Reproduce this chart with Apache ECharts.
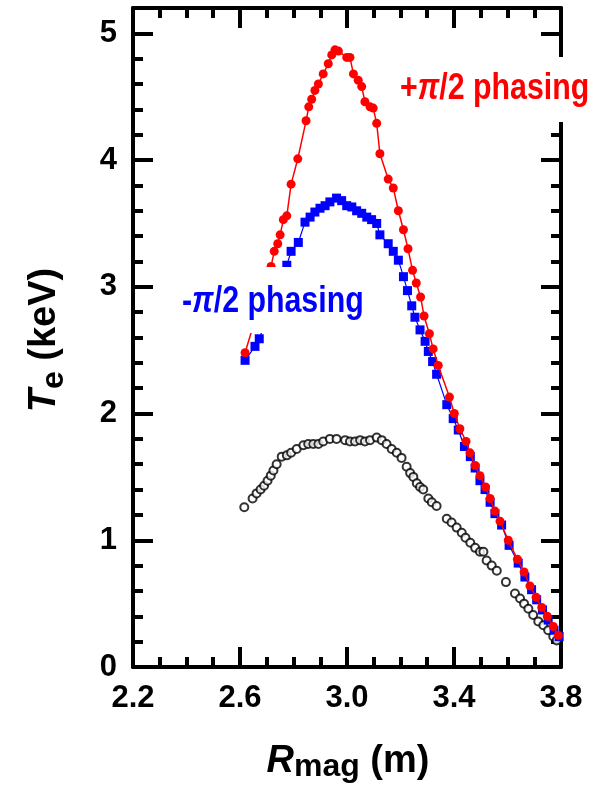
<!DOCTYPE html>
<html>
<head>
<meta charset="utf-8">
<script src="https://cdn.jsdelivr.net/npm/echarts@6/dist/echarts.min.js"></script>
<style>
  html, body { margin: 0; padding: 0; background: #fff; }
  #chart { width: 595px; height: 795px; }
</style>
</head>
<body>
<div id="chart"></div>
<script>
// Electron temperature profiles T_e versus major radius R_mag

// Reference profile (open circles)
const rRef = [2.616, 2.647, 2.662, 2.677, 2.690, 2.703, 2.715, 2.725, 2.737, 2.756,
  2.775, 2.791, 2.812, 2.837, 2.855, 2.874, 2.893, 2.911, 2.936, 2.961,
  2.993, 3.011, 3.030, 3.049, 3.067, 3.086, 3.111, 3.130, 3.148, 3.167,
  3.186, 3.204, 3.223, 3.236, 3.248, 3.261, 3.273, 3.285, 3.304, 3.317,
  3.335, 3.373, 3.391, 3.410, 3.429, 3.443, 3.461, 3.479, 3.497, 3.510,
  3.522, 3.541, 3.560, 3.594, 3.628, 3.647, 3.662, 3.678, 3.696, 3.715,
  3.734, 3.752, 3.771, 3.784, 3.803];
const teRef = [1.26, 1.33, 1.37, 1.40, 1.43, 1.47, 1.51, 1.55, 1.60, 1.66,
  1.67, 1.69, 1.72, 1.75, 1.76, 1.76, 1.76, 1.78, 1.80, 1.80,
  1.79, 1.78, 1.78, 1.79, 1.78, 1.79, 1.81, 1.79, 1.76, 1.72,
  1.69, 1.65, 1.58, 1.53, 1.50, 1.45, 1.42, 1.40, 1.33, 1.30,
  1.27, 1.17, 1.14, 1.10, 1.06, 1.02, 0.98, 0.94, 0.91, 0.91,
  0.84, 0.80, 0.76, 0.67, 0.58, 0.54, 0.50, 0.46, 0.41, 0.36,
  0.33, 0.29, 0.24, 0.21, 0.15];

// -pi/2 phasing (blue squares)
const rMinus = [2.619, 2.656, 2.672, 2.775, 2.791, 2.818, 2.843, 2.862, 2.880, 2.899,
  2.918, 2.936, 2.961, 2.980, 2.999, 3.018, 3.036, 3.055, 3.074, 3.092,
  3.111, 3.123, 3.154, 3.173, 3.192, 3.211, 3.226, 3.242, 3.254, 3.273,
  3.292, 3.304, 3.320, 3.335, 3.373, 3.397, 3.416, 3.439, 3.461, 3.479,
  3.497, 3.516, 3.535, 3.553, 3.578, 3.606, 3.640, 3.665, 3.690, 3.709,
  3.731, 3.752, 3.774, 3.793];
const teMinus = [2.42, 2.53, 2.59, 3.17, 3.28, 3.35, 3.51, 3.55, 3.59, 3.62,
  3.64, 3.67, 3.70, 3.68, 3.64, 3.63, 3.60, 3.58, 3.55, 3.53,
  3.50, 3.41, 3.34, 3.28, 3.21, 3.08, 2.97, 2.85, 2.76, 2.66,
  2.57, 2.49, 2.41, 2.31, 2.07, 1.96, 1.87, 1.74, 1.66, 1.57,
  1.47, 1.40, 1.30, 1.21, 1.12, 0.96, 0.82, 0.71, 0.61, 0.53,
  0.45, 0.37, 0.29, 0.24];

// +pi/2 phasing (red circles)
const rPlus = [2.619, 2.716, 2.728, 2.741, 2.750, 2.762, 2.775, 2.791, 2.816, 2.847,
  2.857, 2.868, 2.880, 2.893, 2.911, 2.930, 2.943, 2.955, 2.968, 2.999,
  3.011, 3.024, 3.042, 3.055, 3.067, 3.086, 3.098, 3.111, 3.123, 3.154,
  3.173, 3.192, 3.211, 3.228, 3.245, 3.259, 3.275, 3.288, 3.308, 3.322,
  3.341, 3.383, 3.401, 3.422, 3.445, 3.460, 3.479, 3.497, 3.518, 3.535,
  3.553, 3.572, 3.603, 3.637, 3.662, 3.684, 3.707, 3.728, 3.749, 3.771,
  3.790];
const tePlus = [2.48, 3.16, 3.28, 3.34, 3.41, 3.53, 3.56, 3.81, 4.01, 4.31,
  4.42, 4.48, 4.55, 4.60, 4.68, 4.76, 4.83, 4.87, 4.86, 4.81,
  4.81, 4.68, 4.63, 4.58, 4.46, 4.42, 4.41, 4.29, 4.05, 3.85,
  3.78, 3.60, 3.45, 3.30, 3.13, 3.03, 2.92, 2.77, 2.63, 2.51,
  2.38, 2.13, 2.00, 1.88, 1.78, 1.69, 1.59, 1.51, 1.42, 1.33,
  1.23, 1.15, 1.00, 0.85, 0.75, 0.64, 0.55, 0.47, 0.40, 0.32,
  0.25];

const FONT = '"Liberation Sans", Arial, Helvetica, sans-serif';
const BLACK = '#000000';
const RED = '#ff0000';
const BLUE = '#0000ff';

const pairs = (xs, ys) => xs.map((x, i) => [x, ys[i]]);

// Boxed frame: every side carries major and minor ticks pointing into the plot
function frameAxis(kind, position, showLabels, gridIndex) {
  const isX = kind === 'x';
  const axis = {
    type: 'value',
    gridIndex: gridIndex,
    position: position,
    min: isX ? 2.2 : 0,
    max: isX ? 3.8 : 5.2,
    interval: isX ? 0.4 : 1,
    axisLine: { show: true, lineStyle: { color: BLACK, width: 4 } },
    axisTick: { show: true, inside: true, length: 20, lineStyle: { color: BLACK, width: 4 } },
    minorTick: { show: true, splitNumber: isX ? 4 : 5, length: 10, lineStyle: { color: BLACK, width: 4 } },
    splitLine: { show: false },
    axisLabel: { show: false }
  };
  if (showLabels) {
    axis.axisLabel = {
      show: true,
      fontFamily: FONT,
      fontWeight: 'bold',
      fontSize: 31,
      color: BLACK,
      margin: 16,
      formatter: isX
        ? (v => v.toFixed(1))
        : (v => (Math.abs(v - Math.round(v)) < 1e-6 ? String(Math.round(v)) : ''))
    };
  }
  return axis;
}

const chart = echarts.init(document.getElementById('chart'));

const plotRect = { left: 133, right: 34, top: 8, bottom: 128 };

chart.setOption({
  animation: false,
  // grid 0 holds the data; grid 1 covers the same rectangle and only carries the top frame axis
  grid: [Object.assign({}, plotRect), Object.assign({}, plotRect)],
  xAxis: [
    frameAxis('x', 'bottom', true, 0),
    frameAxis('x', 'top', false, 1)
  ],
  yAxis: [
    frameAxis('y', 'left', true, 0),
    frameAxis('y', 'right', false, 0),
    { type: 'value', gridIndex: 1, show: false, min: 1, max: 2 }
  ],
  series: [
    {
      name: 'reference',
      type: 'scatter',
      xAxisIndex: 0,
      yAxisIndex: 0,
      data: pairs(rRef, teRef),
      symbol: 'circle',
      symbolSize: 8,
      itemStyle: { color: '#ffffff', borderColor: BLACK, borderWidth: 2 },
      z: 2
    },
    {
      name: '-pi/2 phasing',
      type: 'line',
      xAxisIndex: 0,
      yAxisIndex: 0,
      data: pairs(rMinus, teMinus),
      symbol: 'rect',
      symbolSize: 9,
      showSymbol: true,
      itemStyle: { color: BLUE },
      lineStyle: { color: BLUE, width: 1.2 },
      z: 3
    },
    {
      name: '+pi/2 phasing',
      type: 'line',
      xAxisIndex: 0,
      yAxisIndex: 0,
      data: pairs(rPlus, tePlus),
      symbol: 'circle',
      symbolSize: 9,
      showSymbol: true,
      itemStyle: { color: RED },
      lineStyle: { color: RED, width: 1.5 },
      z: 4
    }
  ],
  graphic: [
    // label for +pi/2 phasing, on a white plate
    { type: 'rect', z: 100, shape: { x: 382, y: 57, width: 213, height: 65 }, style: { fill: '#ffffff' } },
    {
      type: 'text', z: 101, x: 400, y: 89, scaleX: 0.82,
      style: {
        text: '{a|+}{b|π}{a|/2 phasing}',
        verticalAlign: 'middle', align: 'left',
        rich: {
          a: { fontFamily: FONT, fontWeight: 'bold', fontSize: 37, fill: RED },
          b: { fontFamily: FONT, fontWeight: 'bold', fontStyle: 'italic', fontSize: 37, fill: RED }
        }
      }
    },
    // label for -pi/2 phasing, on a white plate
    { type: 'rect', z: 100, shape: { x: 170, y: 267, width: 205, height: 66 }, style: { fill: '#ffffff' } },
    {
      type: 'text', z: 101, x: 182, y: 302, scaleX: 0.82,
      style: {
        text: '{a|-}{b|π}{a|/2 phasing}',
        verticalAlign: 'middle', align: 'left',
        rich: {
          a: { fontFamily: FONT, fontWeight: 'bold', fontSize: 37, fill: BLUE },
          b: { fontFamily: FONT, fontWeight: 'bold', fontStyle: 'italic', fontSize: 37, fill: BLUE }
        }
      }
    },
    // x axis title: R_mag (m)
    {
      type: 'text', z: 101, x: 348, y: 762,
      style: {
        text: '{r|R}{s|mag}{n| (m)}',
        align: 'center', verticalAlign: 'middle',
        rich: {
          r: { fontFamily: FONT, fontWeight: 'bold', fontStyle: 'italic', fontSize: 38, lineHeight: 42, fill: BLACK },
          s: { fontFamily: FONT, fontWeight: 'bold', fontSize: 32, lineHeight: 28, verticalAlign: 'bottom', fill: BLACK },
          n: { fontFamily: FONT, fontWeight: 'bold', fontSize: 38, lineHeight: 42, fill: BLACK }
        }
      }
    },
    // y axis title: T_e (keV)
    {
      type: 'text', z: 101, x: 45, y: 340, rotation: Math.PI / 2,
      style: {
        text: '{t|T}{s|e}{n| (keV)}',
        align: 'center', verticalAlign: 'middle',
        rich: {
          t: { fontFamily: FONT, fontWeight: 'bold', fontStyle: 'italic', fontSize: 38, lineHeight: 50, fill: BLACK },
          s: { fontFamily: FONT, fontWeight: 'bold', fontSize: 32, lineHeight: 26, verticalAlign: 'bottom', fill: BLACK },
          n: { fontFamily: FONT, fontWeight: 'bold', fontSize: 38, lineHeight: 50, fill: BLACK }
        }
      }
    }
  ]
});
</script>
</body>
</html>
